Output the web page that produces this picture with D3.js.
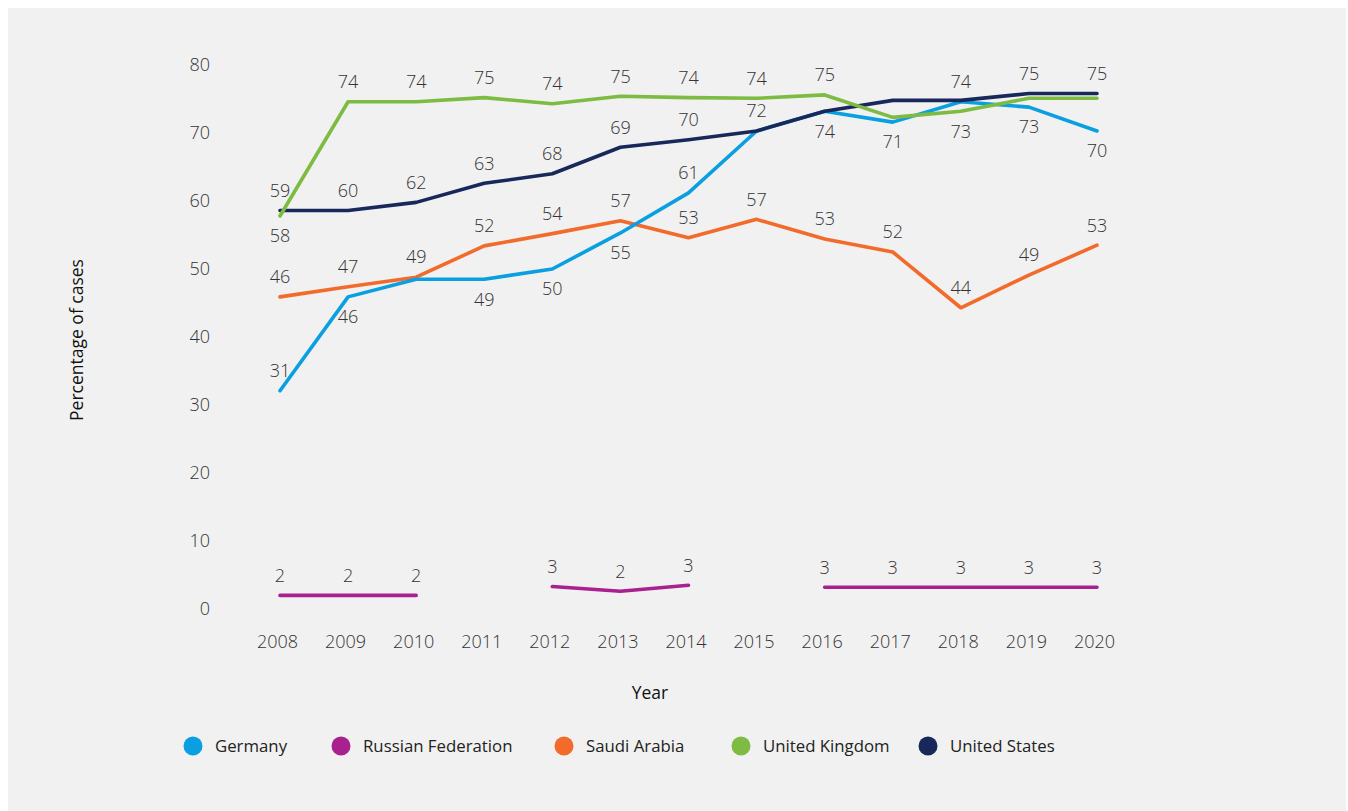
<!DOCTYPE html>
<html>
<head>
<meta charset="utf-8">
<script src="https://cdn.jsdelivr.net/npm/d3@7"></script>
<style>
  html, body { margin: 0; padding: 0; background: #ffffff; }
  svg { display: block; }
  text { font-family: "Open Sans", "Noto Sans", sans-serif; }
</style>
</head>
<body>
<svg id="chart" width="1348" height="811"></svg>
<script>
// ---- Data ----
const years = [2008, 2009, 2010, 2011, 2012, 2013, 2014, 2015, 2016, 2017, 2018, 2019, 2020];

const germany       = [32.1, 45.9, 48.5, 48.5, 50.0, 55.3, 61.2, 70.3, 73.2, 71.6, 74.6, 73.8, 70.3];
const germanyLabels = [31, 46, null, 49, 50, 55, 61, 72, 74, 71, 74, 73, 70];

const russia       = [2.0, 2.0, 2.0, null, 3.3, 2.6, 3.5, null, 3.2, 3.2, 3.2, 3.2, 3.2];
const russiaLabels = [2, 2, 2, null, 3, 2, 3, null, 3, 3, 3, 3, 3];

const saudi       = [45.9, 47.4, 48.8, 53.4, 55.2, 57.1, 54.6, 57.3, 54.4, 52.5, 44.3, 49.1, 53.5];
const saudiLabels = [46, 47, 49, 52, 54, 57, 53, 57, 53, 52, 44, 49, 53];

const uk       = [57.8, 74.6, 74.6, 75.2, 74.3, 75.4, 75.2, 75.1, 75.6, 72.3, 73.2, 75.1, 75.1];
const ukLabels = [58, 74, 74, 75, 74, 75, 74, 74, 75, null, 73, null, null];

const us       = [58.6, 58.6, 59.8, 62.6, 64.0, 67.9, 69.0, 70.3, 73.2, 74.8, 74.8, 75.8, 75.8];
const usLabels = [59, 60, 62, 63, 68, 69, 70, null, null, null, null, 75, 75];

const yTicks = [0, 10, 20, 30, 40, 50, 60, 70, 80];
const seriesNames = ["Germany", "Russian Federation", "Saudi Arabia", "United Kingdom", "United States"];

// ---- Styling / layout (not data) ----
const colors = {
  "Germany": "#0a9fe0",
  "Russian Federation": "#a9218e",
  "Saudi Arabia": "#f26b2b",
  "United Kingdom": "#7dbb42",
  "United States": "#19285b"
};
// label side: -1 above the point, +1 below
const placement = {
  "Germany":            [-1, 1, 1, 1, 1, 1, -1, -1, 1, 1, -1, 1, 1],
  "Russian Federation": [-1, -1, -1, -1, -1, -1, -1, -1, -1, -1, -1, -1, -1],
  "Saudi Arabia":       [-1, -1, -1, -1, -1, -1, -1, -1, -1, -1, -1, -1, -1],
  "United Kingdom":     [1, -1, -1, -1, -1, -1, -1, -1, -1, -1, 1, -1, -1],
  "United States":      [-1, -1, -1, -1, -1, -1, -1, -1, -1, -1, -1, -1, -1]
};
const legendX = [193, 341, 564, 741, 928];

const series = [
  { name: "Germany", values: germany, labels: germanyLabels },
  { name: "Russian Federation", values: russia, labels: russiaLabels },
  { name: "Saudi Arabia", values: saudi, labels: saudiLabels },
  { name: "United Kingdom", values: uk, labels: ukLabels },
  { name: "United States", values: us, labels: usLabels }
];
// drawing order (later = on top)
const drawOrder = ["Saudi Arabia", "Russian Federation", "Germany", "United States", "United Kingdom"];

const svg = d3.select("#chart");
svg.append("rect").attr("x", 8).attr("y", 8).attr("width", 1338).attr("height", 803).attr("fill", "#f1f1f1");

const x = d3.scalePoint().domain(years).range([280, 1097]);
const y = d3.scaleLinear().domain([0, 80]).range([609, 65]);

// Y axis (labels only)
const yAxis = d3.axisLeft(y).tickValues(yTicks).tickSize(0).tickPadding(0);
const gy = svg.append("g").attr("transform", "translate(210,0)").call(yAxis);
gy.select(".domain").remove();
gy.selectAll("text")
  .attr("font-size", 18).attr("font-weight", 300).attr("fill", "#333")
  .attr("font-family", "'Open Sans', sans-serif");

// X axis (labels only)
const xAxis = d3.axisBottom(x).tickSize(0).tickPadding(0).tickFormat(d => String(d));
const gx = svg.append("g").attr("transform", "translate(-3,635)").call(xAxis);
gx.select(".domain").remove();
gx.selectAll("text")
  .attr("font-size", 18).attr("font-weight", 300).attr("fill", "#333")
  .attr("font-family", "'Open Sans', sans-serif");

// Axis titles
svg.append("text")
  .attr("transform", "translate(83,340) rotate(-90)")
  .attr("text-anchor", "middle")
  .attr("font-size", 17.5).attr("fill", "#111")
  .text("Percentage of cases");
svg.append("text")
  .attr("x", 650).attr("y", 699)
  .attr("text-anchor", "middle")
  .attr("font-size", 17.5).attr("fill", "#111")
  .text("Year");

// Lines
const line = d3.line()
  .defined(d => d.v != null)
  .x(d => x(d.year))
  .y(d => y(d.v));

const byName = Object.fromEntries(series.map(s => [s.name, s]));
drawOrder.forEach(name => {
  const s = byName[name];
  const pts = years.map((yr, i) => ({ year: yr, v: s.values[i] }));
  svg.append("path")
    .datum(pts)
    .attr("fill", "none")
    .attr("stroke", colors[name])
    .attr("stroke-width", 3.6)
    .attr("stroke-linejoin", "round")
    .attr("stroke-linecap", "round")
    .attr("d", line);
});

// Data labels
series.forEach(s => {
  years.forEach((yr, i) => {
    const lab = s.labels[i];
    const v = s.values[i];
    if (lab == null || v == null) return;
    svg.append("text")
      .attr("x", x(yr))
      .attr("y", y(v) + placement[s.name][i] * 20)
      .attr("dy", "0.35em")
      .attr("text-anchor", "middle")
      .attr("font-size", 18).attr("font-weight", 300).attr("fill", "#333")
      .text(lab);
  });
});

// Legend
const lg = svg.append("g");
seriesNames.forEach((name, i) => {
  const cx = legendX[i];
  lg.append("ellipse").attr("cx", cx).attr("cy", 746).attr("rx", 9.5).attr("ry", 9.5).attr("fill", colors[name]);
  lg.append("text").attr("x", cx + 22).attr("y", 746).attr("dy", "0.35em")
    .attr("font-size", 16.8).attr("fill", "#222").text(name);
});
</script>
</body>
</html>
